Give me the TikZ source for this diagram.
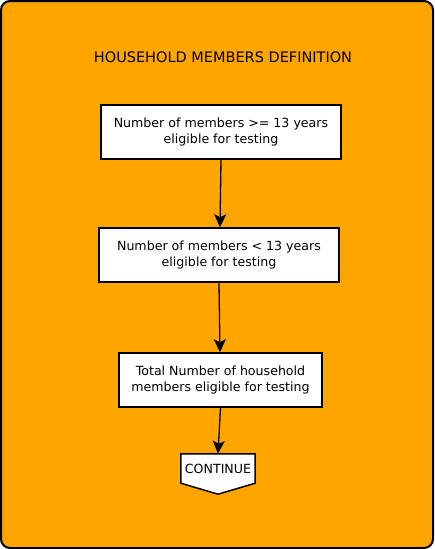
\documentclass[tikz,border=0pt]{standalone}
\usepackage{fontspec}
\setmainfont{DejaVu Sans}
\usetikzlibrary{arrows.meta}
\definecolor{bgorange}{HTML}{FFA500}
\tikzset{
  boxfont/.style={font=\fontsize{12.6}{16}\selectfont},
  stepbox/.style={draw=black, fill=white, line width=1.5pt, align=center, inner sep=0pt, boxfont},
  flow/.style={draw=black, line width=1.3pt, -{Stealth[length=13pt,width=12pt,inset=3pt]}}
}
\begin{document}
\begin{tikzpicture}[x=1pt,y=-1pt]
\useasboundingbox (0,0) rectangle (434,549);
\draw[line width=2pt, fill=bgorange, rounded corners=9pt] (1,1) rectangle (433,548);
\node[font=\fontsize{14.5}{16}\selectfont] (title) at (223,57) {HOUSEHOLD MEMBERS DEFINITION};
\node[stepbox, minimum width=240pt, minimum height=54pt] (b1) at (221,132) {Number of members >= 13 years\\eligible for testing};
\node[stepbox, minimum width=240pt, minimum height=54pt] (b2) at (219,255) {Number of members < 13 years\\eligible for testing};
\node[stepbox, minimum width=203pt, minimum height=54pt] (b3) at (220.5,380) {Total Number of household\\members eligible for testing};
\node[minimum width=74pt, minimum height=29pt, inner sep=0pt] (cont) at (218,468.5) {};
\draw[line width=1.5pt, fill=white] (cont.north west) -- (cont.north east) -- (cont.south east) -- ([yshift=-11pt]cont.south) -- (cont.south west) -- cycle;
\node[boxfont] (conttext) at (cont) {CONTINUE};
\draw[flow] (b1.south) -- ([xshift=-1pt]b2.north -| b1.south);
\draw[flow] (b2.south) -- ([xshift=1pt]b3.north -| b2.south);
\draw[flow] (b3.south) -- (cont.north);
\end{tikzpicture}
\end{document}
